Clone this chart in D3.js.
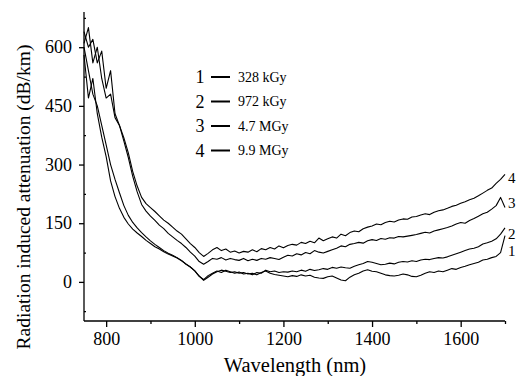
<!DOCTYPE html>
<html>
<head>
<meta charset="utf-8">
<script src="https://cdn.jsdelivr.net/npm/d3@7"></script>
<style>
  body { margin: 0; background: #fff; }
  svg { display: block; }
  svg text { font-family: "Liberation Serif", "DejaVu Serif", Times, serif; fill: #000; }
</style>
</head>
<body>
<svg width="517" height="376"></svg>
<script>
const wavelength = [
  750, 760, 770, 780, 790, 800, 810, 820, 830, 840, 850, 860, 870, 880, 890, 900,
  910, 920, 930, 940, 950, 960, 970, 980, 990, 1000, 1010, 1020, 1030, 1040, 1050, 1060,
  1070, 1080, 1090, 1100, 1110, 1120, 1130, 1140, 1150, 1160, 1170, 1180, 1190, 1200, 1210, 1220,
  1230, 1240, 1250, 1260, 1270, 1280, 1290, 1300, 1310, 1320, 1330, 1340, 1350, 1360, 1370, 1380,
  1390, 1400, 1410, 1420, 1430, 1440, 1450, 1460, 1470, 1480, 1490, 1500, 1510, 1520, 1530, 1540,
  1550, 1560, 1570, 1580, 1590, 1600, 1610, 1620, 1630, 1640, 1650, 1660, 1670, 1680, 1690, 1700
]

// 328 kGy
const dose1 = [
  580, 470, 520, 430, 370, 320, 258, 218, 188, 165, 148, 135, 125, 116, 106, 98,
  90, 84, 77, 71, 66, 61, 54, 46, 38, 28, 15, 4, 12, 20, 26, 30,
  27, 24, 26, 22, 24, 20, 22, 18, 24, 28, 22, 19, 17, 15, 13, 16,
  14, 18, 15, 17, 12, 10, 9, 13, 15, 10, 5, 3, 12, 18, 22, 28,
  31, 27, 26, 22, 18, 16, 15, 17, 20, 18, 14, 13, 17, 22, 26, 24,
  28, 26, 30, 34, 32, 37, 40, 44, 47, 50, 56, 58, 62, 65, 75, 118
]

// 972 kGy
const dose2 = [
  600, 540, 480, 450, 400, 350, 300, 262, 228, 195, 170, 152, 138, 126, 115, 105,
  96, 88, 80, 73, 68, 62, 55, 45, 38, 28, 14, 6, 16, 22, 28, 24,
  30, 26, 22, 25, 20, 22, 18, 24, 22, 30, 26, 28, 24, 26, 25, 28,
  26, 30, 27, 32, 29, 31, 34, 32, 37, 35, 38, 36, 35, 40, 44, 47,
  52, 50, 47, 44, 45, 48, 46, 50, 52, 51, 54, 52, 56, 58, 57, 60,
  62, 61, 64, 68, 72, 76, 80, 84, 86, 90, 97, 100, 104, 110, 122, 138
]

// 4.7 MGy
const dose3 = [
  610, 650, 560, 600, 520, 470, 480, 420, 400, 360, 318, 270, 230, 198, 181, 168,
  157, 145, 136, 124, 115, 106, 98, 88, 76, 66, 52, 45, 52, 60, 58, 62,
  56, 60, 57, 55, 60, 54, 58, 55, 60, 58, 62, 60, 57, 63, 68, 66,
  72, 69, 75, 72, 80, 76, 74, 78, 82, 86, 92, 90, 96, 98, 101, 99,
  105, 108, 106, 111, 109, 113, 112, 116, 115, 117, 119, 121, 124, 127, 125, 130,
  133, 136, 139, 143, 148, 152, 150, 157, 162, 168, 174, 178, 186, 195, 216, 190
]

// 9.9 MGy
const dose4 = [
  640, 600, 620, 560, 590, 495, 540, 430, 400, 368, 330, 282, 245, 216, 200, 190,
  180, 169, 158, 150, 140, 130, 122, 110, 98, 88, 75, 65, 73, 82, 88, 80,
  84, 76, 79, 74, 78, 76, 82, 77, 85, 82, 88, 84, 92, 87, 93, 96,
  94, 101, 98, 104, 100, 112, 105, 110, 115, 112, 122, 118, 126, 130, 128, 136,
  140, 143, 148, 146, 152, 155, 153, 158, 161, 160, 166, 167, 171, 174, 172, 178,
  182, 184, 188, 193, 196, 201, 205, 210, 214, 220, 227, 234, 240, 252, 262, 275
]

const seriesIds = ['1', '2', '3', '4']
const doseLabels = ['328 kGy', '972 kGy', '4.7 MGy', '9.9 MGy']
const xTicks = [800, 1000, 1200, 1400, 1600]
const xMinorTicks = [900, 1100, 1300, 1500, 1700]
const yTicks = [0, 150, 300, 450, 600]
const yMinorTicks = [-75, 75, 225, 375, 525, 675]

const width = 517
const height = 376
const margin = { top: 12, right: 12, bottom: 55, left: 84 }
const serif = '"Liberation Serif", "DejaVu Serif", Times, serif'

const svg = d3.select('svg')

const x = d3.scaleLinear()
  .domain([750, 1700])
  .range([margin.left, width - margin.right])

const y = d3.scaleLinear()
  .domain([-100, 690])
  .range([height - margin.bottom, margin.top])

const series = [dose1, dose2, dose3, dose4]

// axes
const xAxis = g => g
  .attr('transform', `translate(0,${height - margin.bottom})`)
  .call(d3.axisBottom(x).tickValues(xTicks).tickSize(6).tickPadding(5).tickFormat(d3.format('d')))
  .call(g => g.select('.domain').attr('d', `M${x(750)},0H${x(1700)}`))

const xMinor = g => g
  .attr('transform', `translate(0,${height - margin.bottom})`)
  .call(d3.axisBottom(x).tickValues(xMinorTicks).tickSize(3).tickFormat(''))
  .call(g => g.select('.domain').remove())

const yAxis = g => g
  .attr('transform', `translate(${margin.left},0)`)
  .call(d3.axisLeft(y).tickValues(yTicks).tickSize(5).tickPadding(7))
  .call(g => g.select('.domain').attr('d', `M0,${y(-100)}V${y(690)}`))

const yMinor = g => g
  .attr('transform', `translate(${margin.left},0)`)
  .call(d3.axisRight(y).tickValues(yMinorTicks).tickSize(2).tickFormat(''))
  .call(g => g.select('.domain').remove())

svg.append('g').call(xMinor)
svg.append('g').call(yMinor)
svg.append('g').call(xAxis)
svg.append('g').call(yAxis)

svg.selectAll('g').attr('font-family', serif)
svg.selectAll('.tick text')
  .attr('font-size', 18)
  .attr('fill', '#000')
svg.selectAll('.domain, .tick line')
  .attr('stroke', '#000')
  .attr('stroke-width', 1.3)

// curves
const line = d3.line()
  .x((d, i) => x(wavelength[i]))
  .y(d => y(d))

svg.append('g')
  .selectAll('path')
  .data(series)
  .join('path')
  .attr('fill', 'none')
  .attr('stroke', '#000')
  .attr('stroke-width', 1.1)
  .attr('stroke-linejoin', 'round')
  .attr('d', line)

// curve end labels
const endLabelAt = [80, 122, 202, 265]
svg.append('g')
  .attr('font-size', 15)
  .selectAll('text')
  .data(seriesIds)
  .join('text')
  .attr('x', x(1700) + 3)
  .attr('y', (d, i) => y(endLabelAt[i]))
  .attr('dy', '0.35em')
  .text(d => d)

// legend
const legend = svg.append('g')
  .selectAll('g')
  .data(seriesIds)
  .join('g')
  .attr('transform', (d, i) => `translate(0,${77 + i * 24.5})`)

legend.append('text')
  .attr('x', 200)
  .attr('dy', '0.35em')
  .attr('text-anchor', 'middle')
  .attr('font-size', 18)
  .text(d => d)

legend.append('line')
  .attr('x1', 211)
  .attr('x2', 230)
  .attr('stroke', '#000')
  .attr('stroke-width', 2)

legend.append('text')
  .attr('x', 238)
  .attr('dy', '0.35em')
  .attr('font-size', 14)
  .text((d, i) => doseLabels[i])

// axis titles
svg.append('text')
  .attr('x', 295)
  .attr('y', 372)
  .attr('text-anchor', 'middle')
  .attr('font-size', 20.5)
  .text('Wavelength (nm)')

svg.append('text')
  .attr('transform', `translate(30,${197}) rotate(-90)`)
  .attr('text-anchor', 'middle')
  .attr('font-size', 19.5)
  .text('Radiation induced attenuation (dB/km)')
</script>
</body>
</html>
